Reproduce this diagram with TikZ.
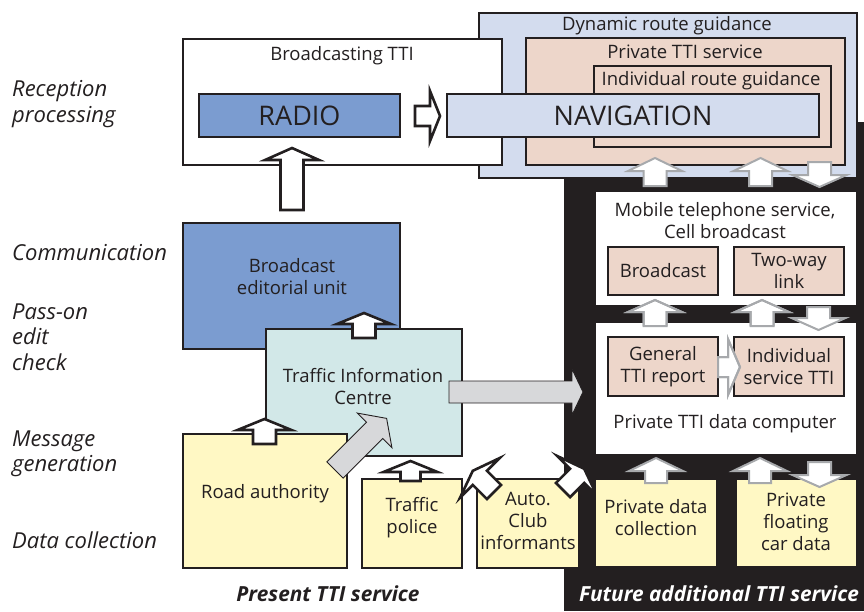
\documentclass[tikz,border=0pt]{standalone}
\usepackage{fontspec}
\setmainfont{Open Sans}
\usetikzlibrary{fit}
\definecolor{ink}{HTML}{231F20}
\definecolor{midblue}{HTML}{7B9CD0}
\definecolor{lightblue}{HTML}{D3DCEE}
\definecolor{salmon}{HTML}{EDD6CA}
\definecolor{cyanish}{HTML}{D2E8E8}
\definecolor{paleyellow}{HTML}{FFF8C4}
\definecolor{arrowgray}{HTML}{D7D8DA}
\definecolor{outlinegray}{HTML}{A7A9AC}
% closed block arrow: style, x, y, angle, length, half shaft, half head, head length
\newcommand\blockarr[8]{%
  \draw[#1, shift={(#2,#3)}, rotate=#4] (0,#6) -- ({#5-#8},#6) -- ({#5-#8},#7) -- (#5,0) -- ({#5-#8},-#7) -- ({#5-#8},-#6) -- (0,-#6) -- cycle;}
% block arrow with open base
\newcommand\blockarro[8]{%
  \fill[#1, shift={(#2,#3)}, rotate=#4] (0,#6) -- ({#5-#8},#6) -- ({#5-#8},#7) -- (#5,0) -- ({#5-#8},-#7) -- ({#5-#8},-#6) -- (0,-#6) -- cycle;
  \draw[#1, fill=none, shift={(#2,#3)}, rotate=#4] (0,#6) -- ({#5-#8},#6) -- ({#5-#8},#7) -- (#5,0) -- ({#5-#8},-#7) -- ({#5-#8},-#6) -- (0,-#6);}
\tikzset{
  box/.style={draw=ink, line width=1.1pt, inner sep=0pt},
  txt/.style={text=ink, font=\fontsize{18.5}{22}\selectfont, align=center, inner sep=0pt},
  bigtxt/.style={text=ink, font=\fontsize{27}{30}\selectfont, inner sep=0pt},
  side/.style={text=ink, font=\fontsize{22}{25.5}\selectfont\itshape, align=left, anchor=west, inner sep=0pt},
  foot/.style={font=\fontsize{20.8}{24}\selectfont\bfseries\itshape, inner sep=0pt},
  blackarr/.style={draw=ink, fill=white, line width=2.6pt, miter limit=10},
  grayarr/.style={draw=ink, fill=arrowgray, line width=0.9pt},
  ghostarr/.style={draw=outlinegray, fill=white, line width=2pt, miter limit=10}
}
\begin{document}
\begin{tikzpicture}[x=1pt,y=-1pt]
\useasboundingbox[fill=white] (0,0) rectangle (864,611);
% black future region
\fill[ink] (564,122) rectangle (864,611);
% reception level
\node[box, fill=lightblue, fit={(479,13) (857,178)}] (drg) {};
\node[box, fill=salmon, fit={(526,38) (845,165)}] (ptti) {};
\node[box, fill=salmon, fit={(594,66) (831,147)}] (irg) {};
\node[txt, anchor=base] (drgt) at (667,30) {Dynamic route guidance};
\node[txt, anchor=base] (pttit) at (685,58) {Private TTI service};
\node[txt, anchor=base] (irgt) at (711,85) {Individual route guidance};
\node[box, fill=white, fit={(183,39) (502,165)}] (btti) {};
\node[txt, anchor=base] (bttit) at (342,60) {Broadcasting TTI};
\node[box, fill=midblue, fit={(199,94) (400,137)}] (radio) {};
\node[bigtxt] at (radio.center) {RADIO};
\node[box, fill=lightblue, fit={(447,94) (819,137)}] (nav) {};
\node[bigtxt] at (633,115.5) {NAVIGATION};
\blockarr{blackarr}{415}{116}{0}{25}{10}{25}{10}
% communication
\node[box, fill=midblue, fit={(183,223) (400,349)}] (beu) {};
\node[txt] at (292,277) {Broadcast\\editorial unit};
\blockarr{blackarr}{292}{210}{90}{62}{11.5}{27}{12}
% TIC
\node[box, fill=cyanish, fit={(266,329) (462,456)}] (tic) {};
\node[txt] at (363,387) {Traffic Information\\Centre};
\blockarr{blackarr}{364}{338}{90}{25}{11.5}{27}{11}
% gray arrow to future
\blockarr{grayarr}{449}{392}{0}{134}{11}{23}{11}
% data collection
\node[box, fill=paleyellow, fit={(183,434) (347,568)}] (road) {};
\node[txt] at (265,494) {Road authority};
\blockarr{blackarr}{264.5}{444}{90}{25}{11.5}{27}{11}
\blockarr{grayarr}{335}{470}{45}{73}{11.5}{24.5}{17}
\node[box, fill=paleyellow, fit={(362,479) (462,568)}] (police) {};
\node[txt] at (412,518) {Traffic\\police};
\blockarr{blackarr}{410.5}{481}{90}{20}{10}{27}{11}
\node[box, fill=paleyellow, fit={(477,479) (579,568)}] (auto) {};
\node[txt] at (528,521) {Auto.\\Club\\informants};
\blockarr{blackarr}{494}{492}{135}{30}{10}{28}{10}
\blockarr{blackarr}{563}{490}{45}{30}{10}{28}{10}
% future boxes
\node[fill=white, inner sep=0pt, fit={(596,192) (856,305)}] (mob) {};
\node[txt] at (725,221) {Mobile telephone service,\\Cell broadcast};
\node[box, fill=salmon, fit={(608,247) (718,295)}] (bc) {};
\node[txt] at (bc.center) {Broadcast};
\node[box, fill=salmon, fit={(734,247) (844,295)}] (twl) {};
\node[txt] at (twl.center) {Two-way\\link};
\node[fill=white, inner sep=0pt, fit={(596,323) (856,454)}] (pdc) {};
\node[box, fill=salmon, fit={(608,337) (718,396)}] (gtr) {};
\node[txt] at (gtr.center) {General\\TTI report};
\node[box, fill=salmon, fit={(734,337) (844,396)}] (ist) {};
\node[txt] at (ist.center) {Individual\\service TTI};
\node[txt] at (725,424) {Private TTI data computer};
\node[box, fill=paleyellow, fit={(595,479) (717,567)}] (pcol) {};
\node[txt] at (656,518) {Private data\\collection};
\node[box, fill=paleyellow, fit={(736,479) (857,567)}] (pfcd) {};
\node[txt] at (796,522) {Private\\floating\\car data};
% gray outlined arrows
\blockarro{ghostarr}{718}{367}{0}{22}{10}{28}{12}
\blockarr{ghostarr}{655}{186}{90}{28}{11.5}{27}{13}
\blockarr{ghostarr}{760.5}{186}{90}{28}{11.5}{27}{13}
\blockarr{ghostarr}{819.5}{162}{-90}{25}{11.5}{27}{12}
\blockarro{ghostarr}{655}{326}{90}{26}{11.5}{27}{12}
\blockarro{ghostarr}{762}{326}{90}{26}{11.5}{27}{12}
\blockarr{ghostarr}{818.5}{307}{-90}{23}{11.5}{27}{12}
\blockarr{ghostarr}{656}{483}{90}{25}{11}{27}{13}
\blockarr{ghostarr}{760}{483}{90}{25}{11}{27}{13}
\blockarr{ghostarr}{819.5}{462}{-90}{25}{11.5}{27}{12}
% side labels
\node[side] at (12,104) {Reception\\processing};
\node[side] at (12,253) {Communication};
\node[side] at (12,337) {Pass-on\\edit\\check};
\node[side] at (12,454) {Message\\generation};
\node[side] at (12,540) {Data collection};
% bottom labels
\node[foot, text=ink] at (328,594) {Present TTI service};
\node[foot, text=white] at (719,594) {Future additional TTI service};
\end{tikzpicture}
\end{document}
